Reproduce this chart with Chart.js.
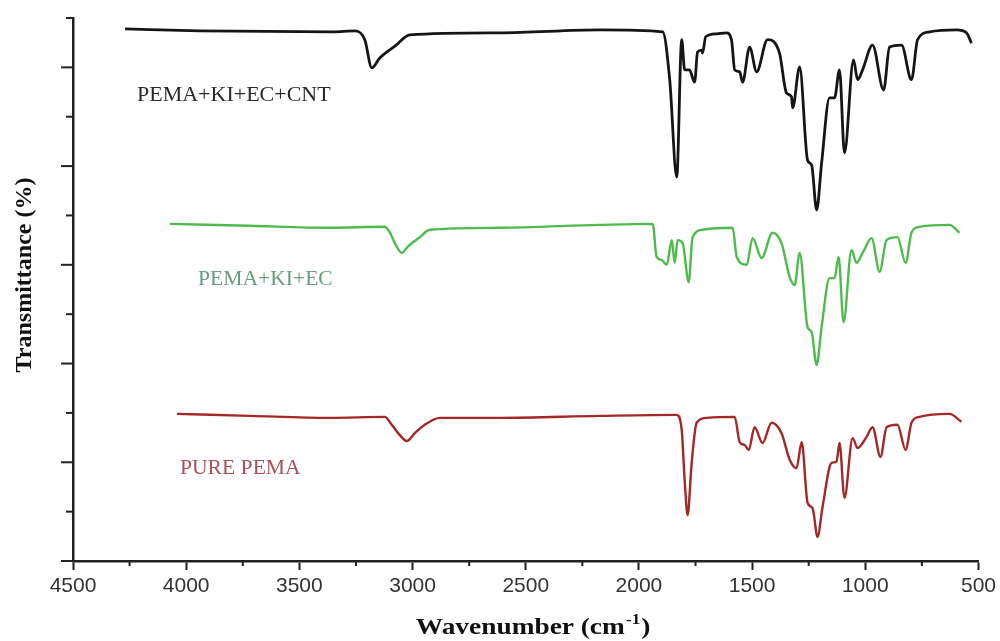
<!DOCTYPE html>
<html>
<head>
<meta charset="utf-8">
<title>FTIR spectra</title>
<script src="https://cdn.jsdelivr.net/npm/chart.js@4.4.1/dist/chart.umd.min.js"></script>
<style>
  html, body { margin: 0; padding: 0; background: #fff; }
  #wrap { width: 1000px; height: 641px; position: relative; }
</style>
</head>
<body>
<div id="wrap"><canvas id="ftir-chart"></canvas></div>
<script>
/* Spectra: wavenumber (cm-1) and transmittance (arbitrary, offset) */
let cntWave = [4270, 3939, 3352, 3255, 3211, 3180, 3145, 3078, 3012, 2615, 2173, 1895, 1864, 1833, 1811, 1798, 1777, 1754, 1741, 1723, 1719, 1705, 1657, 1613, 1591, 1577, 1555, 1542, 1511, 1480, 1432, 1379, 1348, 1326, 1321, 1290, 1255, 1237, 1215, 1193, 1158, 1136, 1114, 1092, 1052, 1034, 1012, 968, 919, 893, 840, 796, 769, 716, 597, 553, 531]
let cntT = [107.8, 107.4, 107.2, 107.4, 105.6, 99.9, 101.9, 104.3, 106.6, 107.0, 107.6, 107.2, 97.5, 77.8, 105.6, 99.5, 99.5, 97.0, 103.1, 103.5, 102.9, 106.2, 106.8, 107.0, 105.6, 99.5, 99.1, 97.0, 104.1, 99.1, 105.6, 102.9, 94.8, 94.0, 91.8, 100.1, 81.2, 80.2, 71.1, 80.6, 93.8, 93.8, 99.5, 82.7, 101.5, 97.5, 99.5, 104.5, 95.4, 104.1, 104.5, 97.5, 105.6, 107.2, 107.6, 107.0, 104.9]

let ecWave = [4072, 3719, 3365, 3123, 3100, 3074, 3047, 3021, 2968, 2924, 2615, 2173, 1939, 1922, 1900, 1877, 1855, 1842, 1829, 1807, 1780, 1763, 1719, 1586, 1568, 1524, 1498, 1458, 1410, 1370, 1334, 1312, 1290, 1255, 1237, 1215, 1193, 1158, 1136, 1118, 1096, 1061, 1039, 1012, 972, 937, 906, 858, 822, 796, 761, 628, 584]
let ecT = [68.3, 67.9, 67.5, 67.7, 66.5, 64.0, 62.4, 63.7, 65.6, 67.1, 67.5, 68.1, 68.3, 61.6, 61.0, 60.0, 65.0, 60.4, 65.0, 64.4, 56.5, 65.6, 67.1, 67.5, 61.6, 60.0, 65.4, 61.4, 66.5, 64.4, 57.5, 55.9, 62.4, 47.4, 46.4, 39.7, 47.4, 57.3, 57.3, 61.6, 48.4, 63.0, 60.4, 62.4, 65.4, 58.6, 65.0, 65.6, 60.4, 66.5, 67.7, 68.1, 66.5]

let pureWave = [4041, 3719, 3365, 3123, 3092, 3056, 3025, 2990, 2946, 2880, 2615, 2173, 1833, 1811, 1798, 1785, 1767, 1745, 1701, 1577, 1555, 1533, 1515, 1489, 1454, 1414, 1370, 1334, 1304, 1281, 1255, 1233, 1211, 1189, 1149, 1127, 1114, 1092, 1056, 1034, 995, 968, 933, 906, 858, 822, 796, 761, 628, 575]
let pureT = [29.8, 29.4, 29.0, 29.2, 27.6, 25.5, 24.3, 25.9, 27.6, 29.0, 29.0, 29.4, 29.6, 26.5, 16.4, 9.3, 19.9, 28.0, 29.0, 29.2, 24.1, 23.5, 22.5, 27.1, 23.9, 28.0, 25.9, 20.5, 18.8, 24.1, 11.8, 10.7, 4.9, 10.9, 19.9, 20.1, 23.9, 12.8, 24.9, 22.9, 25.1, 27.1, 21.1, 27.1, 27.6, 22.5, 28.0, 29.2, 29.8, 28.2]

let seriesNames = ['PEMA+KI+EC+CNT', 'PEMA+KI+EC', 'PURE PEMA']
let xTickStep = 500
let xMinorStep = 250
let yTickStep = 10

function toPoints(waves, values) {
    return waves.map(function(w, i) { return { x: w, y: values[i] } })
}

// draws text stretched horizontally like the scanned figure
function drawText(ctx, text, x, y, font, color, stretch) {
    ctx.save()
    ctx.font = font
    ctx.fillStyle = color
    ctx.textBaseline = 'middle'
    ctx.translate(x, y)
    ctx.scale(stretch, 1)
    ctx.fillText(text, 0, 0)
    ctx.restore()
}

let decorPlugin = {
    id: 'decor',
    afterDraw: function(chart) {
        let ctx = chart.ctx
        let xScale = chart.scales.x
        let yScale = chart.scales.y
        let area = chart.chartArea

        ctx.save()
        ctx.strokeStyle = '#222'
        ctx.lineWidth = 2

        // minor ticks on the wavenumber axis
        for (let w = xScale.min + xMinorStep; w < xScale.max; w += xTickStep) {
            let px = xScale.getPixelForValue(w)
            ctx.beginPath()
            ctx.moveTo(px, area.bottom)
            ctx.lineTo(px, area.bottom + 5)
            ctx.stroke()
        }

        // y ticks, long and short alternating, no labels
        for (let v = yScale.min; v <= yScale.max; v += yTickStep) {
            let py = yScale.getPixelForValue(v)
            let len = (v % 20 == 0) ? 12 : 7
            ctx.beginPath()
            ctx.moveTo(area.left, py)
            ctx.lineTo(area.left - len, py)
            ctx.stroke()
        }
        ctx.restore()

        // series labels
        drawText(ctx, seriesNames[0], 137, 96, '20px "Liberation Serif"', '#2a2a2a', 1.1)
        drawText(ctx, seriesNames[1], 198, 280, '20px "Liberation Serif"', '#6a9c7e', 1.08)
        drawText(ctx, seriesNames[2], 180, 469, '20px "Liberation Serif"', '#a8505c', 1.08)

        // y axis title
        ctx.save()
        ctx.translate(25, 275)
        ctx.rotate(-Math.PI / 2)
        ctx.font = 'bold 24px "Liberation Serif"'
        ctx.fillStyle = '#111'
        ctx.textAlign = 'center'
        ctx.textBaseline = 'middle'
        ctx.fillText('Transmittance (%)', 0, 0)
        ctx.restore()

        // x axis title with superscript
        ctx.save()
        let mainFont = 'bold 24px "Liberation Serif"'
        let supFont = 'bold 15px "Liberation Serif"'
        ctx.font = mainFont
        let partA = 'Wavenumber (cm'
        let partC = ')'
        let wA = ctx.measureText(partA).width
        let wC = ctx.measureText(partC).width
        ctx.font = supFont
        let wB = ctx.measureText('-1').width
        let stretch = 1.14
        let total = (wA + wB + wC) * stretch
        ctx.translate(532 - total / 2, 626)
        ctx.scale(stretch, 1)
        ctx.fillStyle = '#111'
        ctx.textBaseline = 'alphabetic'
        ctx.font = mainFont
        ctx.fillText(partA, 0, 8)
        ctx.font = supFont
        ctx.fillText('-1', wA + 1, -2)
        ctx.font = mainFont
        ctx.fillText(partC, wA + wB + 2, 8)
        ctx.restore()
    }
}

let chartCanvas = document.querySelector('#ftir-chart')
let ctx = chartCanvas.getContext('2d')

let ftirChart = new Chart(ctx, {
    type: 'scatter',
    data: {
        datasets: [
            {
                label: seriesNames[0],
                data: toPoints(cntWave, cntT),
                borderColor: '#151515',
                borderWidth: 2.8
            },
            {
                label: seriesNames[1],
                data: toPoints(ecWave, ecT),
                borderColor: '#4dbb4d',
                borderWidth: 2.4
            },
            {
                label: seriesNames[2],
                data: toPoints(pureWave, pureT),
                borderColor: '#a32828',
                borderWidth: 2.4
            }
        ]
    },
    options: {
        responsive: true,
        maintainAspectRatio: false,
        animation: false,
        showLine: true,
        datasets: {
            scatter: { showLine: true, pointRadius: 0, pointHoverRadius: 0, cubicInterpolationMode: 'monotone' }
        },
        layout: { padding: { left: 0, top: 18, right: 21, bottom: 0 } },
        plugins: {
            legend: { display: false },
            tooltip: { enabled: false }
        },
        scales: {
            x: {
                type: 'linear',
                reverse: true,
                min: 500,
                max: 4500,
                afterFit: function(scale) { scale.height = 80 },
                border: { display: true, color: '#222', width: 2.5 },
                grid: {
                    display: true,
                    drawOnChartArea: false,
                    drawTicks: true,
                    tickLength: 9,
                    tickColor: '#222',
                    tickWidth: 2
                },
                ticks: {
                    stepSize: xTickStep,
                    autoSkip: false,
                    maxRotation: 0,
                    padding: 4,
                    color: '#333',
                    font: { family: '"Liberation Sans", Arial, sans-serif', size: 21 },
                    callback: function(value) { return String(value) }
                }
            },
            y: {
                min: 0,
                max: 110,
                afterFit: function(scale) { scale.width = 73 },
                border: { display: true, color: '#222', width: 2.5 },
                grid: { display: false, drawTicks: false },
                ticks: { display: false, stepSize: yTickStep }
            }
        }
    },
    plugins: [decorPlugin]
})
</script>
</body>
</html>
